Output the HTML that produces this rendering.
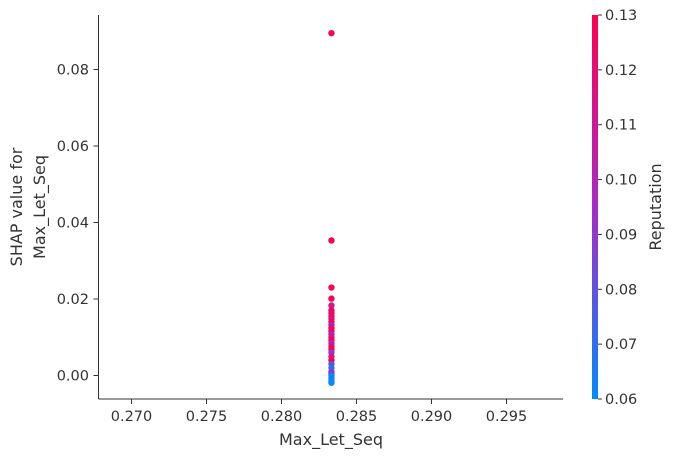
<!DOCTYPE html>
<html><head><meta charset="utf-8"><style>
body{margin:0;background:#fff;}
svg{display:block;font-family:"DejaVu Sans","Liberation Sans",sans-serif;}
</style></head><body>
<svg id="chart" width="674" height="458">
<defs><linearGradient id="cg" x1="0" y1="1" x2="0" y2="0">
<stop offset="0" stop-color="#008afb"/><stop offset="0.5" stop-color="#a82ac8"/><stop offset="1" stop-color="#ff0052"/>
</linearGradient></defs>
<g id="plot"></g>
<text x="22" y="207" transform="rotate(-90 22 207)" text-anchor="middle" font-size="16" fill="#333">SHAP value for</text>
<text x="45" y="207" transform="rotate(-90 45 207)" text-anchor="middle" font-size="16" fill="#333">Max_Let_Seq</text>
<text x="331" y="445" text-anchor="middle" font-size="16" fill="#333">Max_Let_Seq</text>
<rect x="592" y="15" width="6" height="384" fill="url(#cg)"/>
<text x="661" y="207" transform="rotate(-90 661 207)" text-anchor="middle" font-size="16" fill="#333">Reputation</text>
</svg>
<script>
const xTicks=[0.270,0.275,0.280,0.285,0.290,0.295];
const yTicks=[0.00,0.02,0.04,0.06,0.08];
const cTicks=[0.06,0.07,0.08,0.09,0.10,0.11,0.12,0.13];
const featureValues=[0.28333,0.28333,0.28333,0.28333,0.28333,0.28333,0.28333,0.28333,0.28333,0.28333,0.28333,0.28333,0.28333,0.28333,0.28333,0.28333,0.28333,0.28333,0.28333,0.28333,0.28333,0.28333,0.28333,0.28333,0.28333,0.28333,0.28333,0.28333,0.28333,0.28333];
const shapValues=[0.0895,0.0353,0.0230,0.0201,0.0183,0.0170,0.0163,0.0155,0.0148,0.0140,0.0132,0.0124,0.0116,0.0108,0.0100,0.0092,0.0084,0.0076,0.0068,0.0060,0.0050,0.0040,0.0030,0.0020,0.0010,0.0005,0.0000,-0.0008,-0.0014,-0.0019];
const reputation=[0.13,0.13,0.13,0.13,0.11,0.13,0.12,0.13,0.11,0.13,0.10,0.12,0.13,0.10,0.11,0.13,0.10,0.12,0.13,0.09,0.11,0.13,0.08,0.07,0.08,0.10,0.06,0.065,0.06,0.06];
const X=v=>281.5+(v-0.280)*15000;
const Y=v=>375.5-v*(375.5-69.5)/0.08;
const C=v=>399-(v-0.06)*384/0.07;
const NS="http://www.w3.org/2000/svg";
const g=document.getElementById('plot');
function el(t,a,p){const e=document.createElementNS(NS,t);for(const k in a)e.setAttribute(k,a[k]);(p||g).appendChild(e);return e;}
function col(r){let t=Math.max(0,Math.min(1,(r-0.06)/0.07));let a,b,u;
const s=[[0,138,251],[168,42,200],[255,0,82]];
if(t<0.5){a=s[0];b=s[1];u=t*2}else{a=s[1];b=s[2];u=(t-0.5)*2}
return `rgb(${a.map((x,i)=>Math.round(x+(b[i]-x)*u)).join(',')})`;}
let l=el('line',{x1:98.5,y1:15,x2:98.5,y2:399,stroke:'#333','stroke-width':1});

l=el('line',{x1:98.5,y1:399,x2:563,y2:399,stroke:'#333','stroke-width':1});

xTicks.forEach(v=>{const x=X(v);
const t=el('line',{x1:x,y1:399,x2:x,y2:404,stroke:'#333'});

const tx=el('text',{x:x,y:421,'text-anchor':'middle','font-size':14.5,fill:'#333'});tx.textContent=v.toFixed(3);
});
yTicks.forEach(v=>{const y=Y(v);
const t=el('line',{x1:93.5,y1:y,x2:98.5,y2:y,stroke:'#333'});

const tx=el('text',{x:89,y:y+5,'text-anchor':'end','font-size':14.5,fill:'#333'});tx.textContent=v.toFixed(2);
});
cTicks.forEach(v=>{const y=C(v);
const t=el('line',{x1:598,y1:y,x2:602,y2:y,stroke:'#333'});

const tx=el('text',{x:605,y:y+5,'font-size':14.5,fill:'#333'});tx.textContent=v.toFixed(2);
});
shapValues.forEach((v,i)=>{
const c=el('circle',{cx:X(featureValues[i]),cy:Y(v),r:3.2,fill:col(reputation[i])});

});
</script>
</body></html>
